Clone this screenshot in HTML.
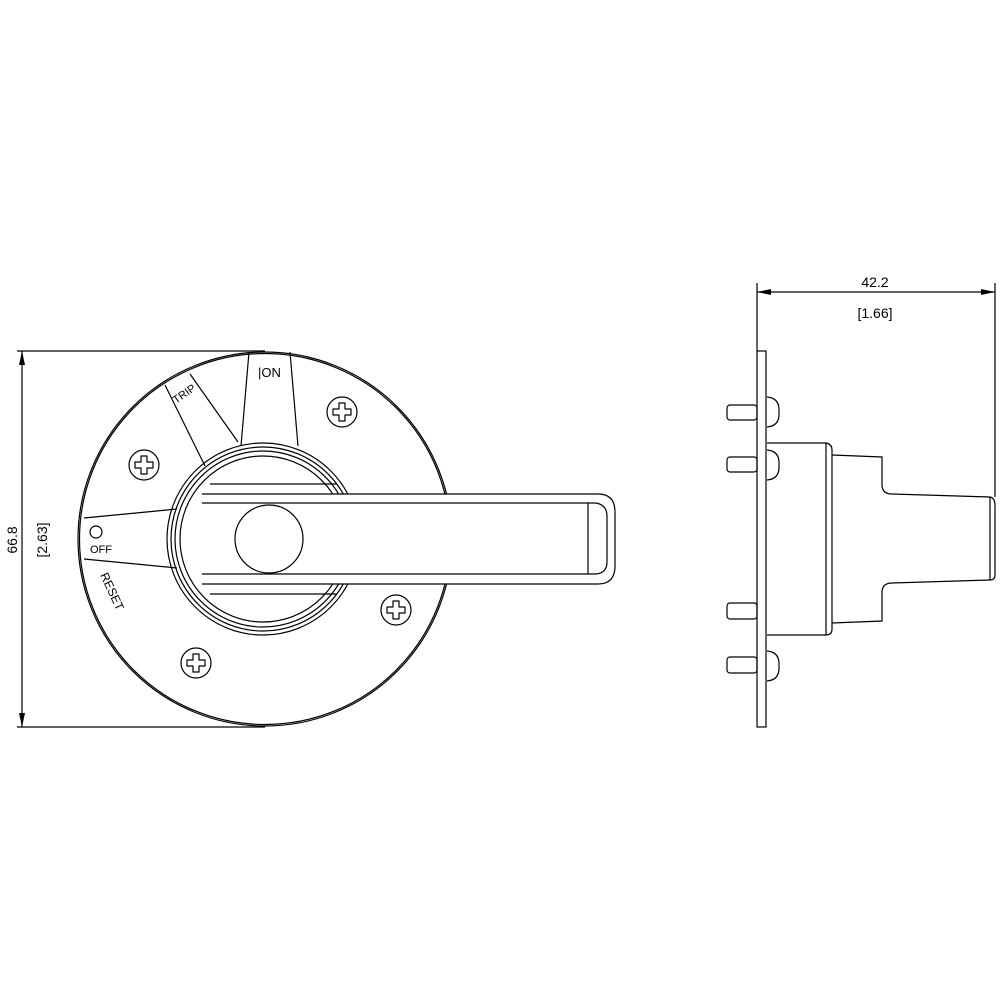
<!DOCTYPE html>
<html><head><style>html,body{margin:0;padding:0;background:#fff}svg{display:block}</style></head>
<body>
<svg width="1000" height="1000" viewBox="0 0 1000 1000" xmlns="http://www.w3.org/2000/svg" font-family="Liberation Sans, sans-serif">
<defs>
<g id="s"><circle r="15"/><path d="M-3,-9 L3,-9 L3,-3 L9,-3 L9,3 L3,3 L3,9 L-3,9 L-3,3 L-9,3 L-9,-3 L-3,-3 Z" stroke-linejoin="round"/></g>
</defs>
<g fill="none" stroke="#000" stroke-width="1.2">
<line x1="17" y1="351" x2="265" y2="351"/>
<line x1="17" y1="727" x2="265" y2="727"/>
<line x1="22" y1="351" x2="22" y2="727"/>
<circle cx="265" cy="539" r="187"/>
<circle cx="265" cy="539" r="185.5"/>
<line x1="249" y1="352" x2="241" y2="446"/>
<line x1="290" y1="352" x2="298" y2="446"/>
<line x1="165" y1="385" x2="205" y2="466"/>
<line x1="190" y1="374" x2="238" y2="442"/>
<line x1="84" y1="518" x2="177" y2="509"/>
<line x1="84" y1="559" x2="177" y2="568"/>
<circle cx="96" cy="532" r="6"/>
<circle cx="263" cy="539" r="96"/>
<circle cx="263" cy="539" r="92"/>
<circle cx="263" cy="539" r="88"/>
<circle cx="263" cy="539" r="83"/>
<use href="#s" x="342" y="412"/><use href="#s" x="144" y="465"/>
<use href="#s" x="396" y="610"/><use href="#s" x="196" y="663"/>
</g>
<path d="M202,494 L598,494 Q615,494 615,512 L615,566 Q615,584 598,584 L202,584 Z" fill="#fff" stroke="none"/>
<g fill="none" stroke="#000" stroke-width="1.2">
<path d="M202,494 L598,494 Q615,494 615,512 L615,566 Q615,584 598,584 L202,584"/>
<path d="M202,503 L596,503 Q607,505 607,516 L607,562 Q607,573 596,574 L202,574"/>
<line x1="588" y1="503" x2="588" y2="574"/>
<path d="M210,484 L337,484 M210,594 L337,594"/>
</g>
<circle cx="269" cy="539" r="34" fill="#fff" stroke="#000" stroke-width="1.2"/>
<text x="258" y="377" font-size="13" fill="#000">|ON</text>
<text x="0" y="0" font-size="11" fill="#000" transform="translate(176,404) rotate(-35)">TRIP</text>
<text x="90" y="553" font-size="11" fill="#000">OFF</text>
<text x="0" y="0" font-size="12" fill="#000" transform="translate(100,575) rotate(65)">RESET</text>
<text x="0" y="0" font-size="14" fill="#000" text-anchor="middle" transform="translate(17,540) rotate(-90)">66.8</text>
<text x="0" y="0" font-size="14" fill="#000" text-anchor="middle" transform="translate(47,540) rotate(-90)">[2.63]</text>
<g fill="none" stroke="#000" stroke-width="1.2">
<line x1="757" y1="283" x2="757" y2="351"/>
<line x1="995" y1="283" x2="995" y2="497"/>
<line x1="757" y1="292" x2="995" y2="292"/>
<rect x="757" y="351" width="9" height="376"/>
<rect x="727" y="405" width="30" height="15" rx="3"/>
<rect x="727" y="457" width="30" height="15" rx="3"/>
<rect x="727" y="603" width="30" height="16" rx="3"/>
<rect x="727" y="657" width="30" height="16" rx="3"/>
<path d="M767,397 Q780,398 779,412 Q780,426 767,427"/>
<path d="M767,450 Q780,451 779,465 Q780,479 767,480"/>
<path d="M767,651 Q780,652 779,666 Q780,680 767,681"/>
<path d="M767,443 L826,443 Q832,444 832,450 L832,629 Q832,635 826,635 L767,635"/>
<line x1="826" y1="443" x2="826" y2="635"/>
<path d="M832,455 L882,457 L882,486 Q883,494 892,494 L990,497 Q995,498 995,505 L995,575 Q995,580 990,580 L892,583 Q883,583 882,591 L882,621 L832,623"/>
<line x1="990" y1="497" x2="990" y2="580"/>
</g>
<path d="M22,351 l-3,14 h6 z M22,727 l-3,-14 h6 z M757,292 l14,-3 v6 z M995,292 l-14,-3 v6 z" fill="#000"/>
<text x="875" y="287" font-size="14" text-anchor="middle" fill="#000">42.2</text>
<text x="875" y="318" font-size="14" text-anchor="middle" fill="#000">[1.66]</text>
</svg>
</body></html>
